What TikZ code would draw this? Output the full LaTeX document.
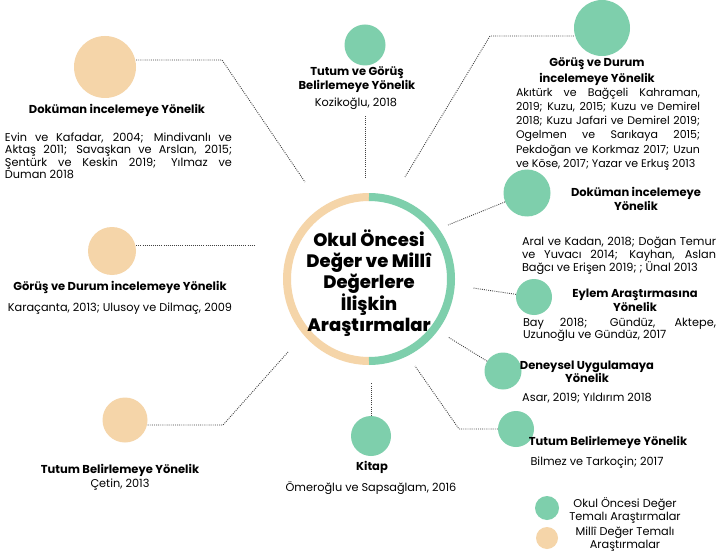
\documentclass[tikz,border=0pt]{standalone}
\usepackage{fontspec}
\setmainfont{Poppins}
\newfontfamily\hubfont{Poppins}[UprightFont=* ExtraBold]
\definecolor{okulgreen}{HTML}{7ECFAC}
\definecolor{millibeige}{HTML}{F5D5A9}
\begin{document}
\begin{tikzpicture}
[x=1pt,y=-1pt,
 greenball/.style={circle,fill=okulgreen,inner sep=0pt,minimum size=#1},
 beigeball/.style={circle,fill=millibeige,inner sep=0pt,minimum size=#1},
 link/.style={line width=0.9pt,black!75,dash pattern=on 0.9pt off 1.2pt},
 head/.style={font=\bfseries\fontsize{11.5}{14}\selectfont,align=center,inner sep=0pt},
 refs/.style={font=\fontsize{11.3}{12.5}\selectfont,align=center,inner sep=0pt},
 refblock/.style={font=\fontsize{11.3}{12.5}\selectfont,align=justify,inner sep=0pt,text width=#1}]
\useasboundingbox[fill=white] (0,0) rectangle (717,556);

%% central ring
\coordinate (ringc) at (369,279);
\draw[millibeige,line width=8pt] (ringc) ++(0,82) arc[start angle=90,end angle=270,radius=82];
\draw[okulgreen,line width=8pt] (ringc) ++(0,-82) arc[start angle=-90,end angle=90,radius=82];
\node[font=\hubfont\fontsize{18}{21}\selectfont,align=center] (hub) at (369,283)
  {Okul Öncesi\\Değer ve Millî\\Değerlere\\İlişkin\\Araştırmalar};

%% theme circles
\foreach \n/\x/\y/\d in {mA/105/67/62, mB/112/251/48, mC/125/420/45, legM/547/538/22}
  \node[beigeball=\d] (\n) at (\x,\y) {};
\foreach \n/\x/\y/\d in {gA/365/45/41, gB/602/28/56, gC/527/193/47, gD/534/297/36,
  gE/503/371/37, gF/516/429/36, gG/371/436/40, legO/547/508/24}
  \node[greenball=\d] (\n) at (\x,\y) {};

%% ends of the dotted links near the ring
\foreach \n/\x/\y in {endA/305/182, endB/255/245, endC/288/352, endD/365/177,
  endE/405/177, endF/448/225, endG/473/288, endH/448/337, endI/415/366, endJ/371/383}
  \coordinate (\n) at (\x,\y);
\coordinate (bendA) at (222,60);
\coordinate (bendC) at (223,425);
\coordinate (bendE) at (490,36);
\coordinate (bendI) at (459,429);

%% labels, left
\node[head] (headA) at (117,110) {Doküman incelemeye Yönelik};
\node[refblock=227] (refA) at (118.5,156) {Evin ve Kafadar, 2004; Mindivanlı ve\linebreak
  Aktaş 2011; Savaşkan ve Arslan, 2015;\linebreak Şentürk ve Keskin 2019; Yılmaz ve\linebreak Duman 2018};
\node[head] (headB) at (120,287) {Görüş ve Durum incelemeye Yönelik};
\node[refs] (refB) at (120,309) {Karaçanta, 2013; Ulusoy ve Dilmaç, 2009};
\node[head] (headC) at (120,470) {Tutum Belirlemeye Yönelik};
\node[refs] (refC) at (120,485) {Çetin, 2013};

%% labels, top and bottom
\node[head] (headD) at (357,80) {Tutum ve Görüş\\Belirlemeye Yönelik};
\node[refs] (refD) at (356,104) {Kozikoğlu, 2018};
\node[head] (headJ) at (372,467) {Kitap};
\node[refs] (refJ) at (371,488) {Ömeroğlu ve Sapsağlam, 2016};

%% labels, right
\node[head,font=\bfseries\fontsize{11.5}{16}\selectfont] (headE) at (597,72) {Görüş ve Durum\\incelemeye Yönelik};
\node[refblock=184,font=\fontsize{11}{14.2}\selectfont] (refE) at (608,129) {Akıtürk ve Bağçeli Kahraman,\linebreak
  2019; Kuzu, 2015; Kuzu ve Demirel\linebreak 2018; Kuzu Jafari ve Demirel 2019;\linebreak
  Ogelmen ve Sarıkaya 2015;\linebreak Pekdoğan ve Korkmaz 2017; Uzun\linebreak ve Köse, 2017; Yazar ve Erkuş 2013};
\node[head] (headF) at (636,199) {Doküman incelemeye\\Yönelik};
\node[refblock=194,font=\fontsize{11.3}{13}\selectfont] (refF) at (619,256) {Aral ve Kadan, 2018; Doğan Temur\linebreak
  ve Yuvacı 2014; Kayhan, Aslan\linebreak Bağcı ve Erişen 2019; ; Ünal 2013};
\node[head] (headG) at (635,300) {Eylem Araştırmasına\\Yönelik};
\node[refblock=193,font=\fontsize{11.3}{11.8}\selectfont] (refG) at (619.5,330) {Bay 2018; Gündüz, Aktepe,\linebreak
  Uzunoğlu ve Gündüz, 2017};
\node[head,font=\bfseries\fontsize{11.5}{13}\selectfont] (headH) at (587,372) {Deneysel Uygulamaya\\Yönelik};
\node[refs] (refH) at (587,398) {Asar, 2019; Yıldırım 2018};
\node[head] (headI) at (608,442) {Tutum Belirlemeye Yönelik};
\node[refs] (refI) at (597,463) {Bilmez ve Tarkoçin; 2017};

%% legend
\node[refs,font=\fontsize{11.3}{13}\selectfont] (legOtext) at (625,511) {Okul Öncesi Değer\\Temalı Araştırmalar};
\node[refs,font=\fontsize{11.3}{13}\selectfont] (legMtext) at (625,539) {Millî Değer Temalı\\Araştırmalar};

%% dotted links
\draw[link] (mA.east |- bendA) -- (bendA) -- (endA);
\draw[link] (mB.east |- endB) -- (endB);
\draw[link] (mC.east |- bendC) -- (bendC) -- (endC);
\draw[link,shorten <=6pt] (refD.south -| endD) -- (endD);
\draw[link] (gB.west |- bendE) -- (bendE) -- (endE);
\draw[link] (gC) -- (endF);
\draw[link] (gD) -- (endG);
\draw[link] (gE) -- (endH);
\draw[link] (gF.west) -- (bendI) -- (endI);
\draw[link] (gG.north) -- (endJ);
\end{tikzpicture}
\end{document}
